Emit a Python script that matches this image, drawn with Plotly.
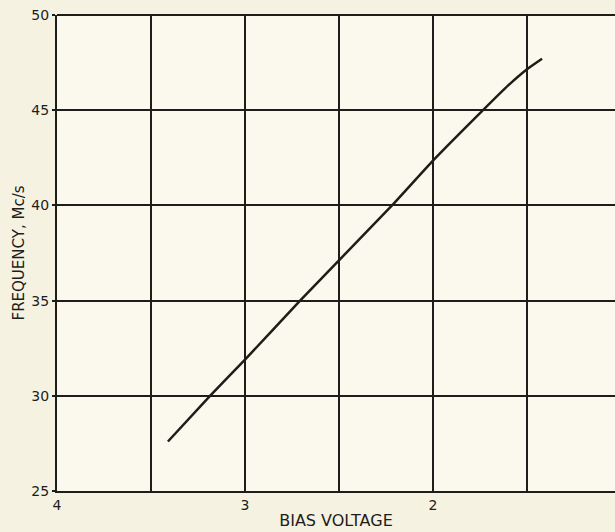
import plotly.graph_objects as go

# Bias voltage (V) vs oscillator frequency (Mc/s)
bias_voltage = [3.41, 3.186, 3.0, 2.707, 2.218, 2.0, 1.734, 1.6, 1.5, 1.42]
frequency = [27.6, 30.0, 31.9, 35.0, 40.0, 42.35, 45.0, 46.3, 47.15, 47.7]

x_grid = [4, 3.5, 3, 2.5, 2, 1.5, 1]
x_labels = ["4", "", "3", "", "2", "", "1"]
y_ticks = [25, 30, 35, 40, 45, 50]

ink = "#1e1d1a"
paper = "#f5f2e2"
field = "#fbf9ed"
font_family = "'DejaVu Sans', sans-serif"

fig = go.Figure()
fig.add_trace(go.Scatter(
    x=bias_voltage, y=frequency, mode="lines",
    line=dict(color=ink, width=2.5, shape="spline", smoothing=0.4),
    hoverinfo="skip", showlegend=False,
))

fig.update_layout(
    width=615, height=532,
    margin=dict(l=57, r=0, t=15, b=41),
    paper_bgcolor=paper, plot_bgcolor=field,
    font=dict(family=font_family, color=ink, size=14),
    xaxis=dict(
        range=[4, 1.032], tickmode="array", tickvals=x_grid, ticktext=x_labels,
        showgrid=True, gridcolor=ink, gridwidth=2,
        showline=True, linecolor=ink, linewidth=2, mirror=False,
        zeroline=False, ticks="", ticklabelstandoff=0,
        tickfont=dict(size=14, family=font_family),
        title=dict(text="BIAS VOLTAGE", standoff=3,
                   font=dict(size=16, family=font_family)),
    ),
    yaxis=dict(
        range=[25, 50], tickmode="array", tickvals=y_ticks,
        showgrid=True, gridcolor=ink, gridwidth=2,
        showline=True, linecolor=ink, linewidth=2,
        zeroline=False, ticks="outside", ticklen=3, tickwidth=2, tickcolor=ink,
        tickfont=dict(size=14, family=font_family),
        title=dict(text="FREQUENCY, Mc/s", standoff=3,
                   font=dict(size=15, family=font_family)),
    ),
)
# top border of the plotting frame
fig.add_shape(type="line", xref="paper", yref="paper", x0=0, x1=1, y0=1, y1=1,
              line=dict(color=ink, width=2))

fig.write_html("out.html")
